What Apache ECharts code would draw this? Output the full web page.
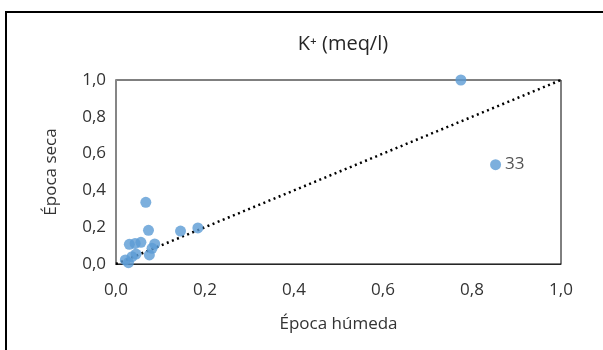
<!DOCTYPE html>
<html>
<head>
<meta charset="utf-8">
<script src="https://cdn.jsdelivr.net/npm/echarts@6/dist/echarts.min.js"></script>
<style>
  html, body { margin: 0; padding: 0; background: #fff; }
  #chart { width: 603px; height: 350px; }
</style>
</head>
<body>
<div id="chart"></div>
<script>
// K+ (meq/l): época húmeda (x) vs época seca (y)
var humeda = [0.067, 0.073, 0.145, 0.184, 0.030, 0.043, 0.056, 0.087, 0.081, 0.075, 0.045, 0.036, 0.021, 0.028, 0.775, 0.853];
var seca = [0.335, 0.183, 0.179, 0.196, 0.107, 0.112, 0.118, 0.109, 0.085, 0.049, 0.054, 0.040, 0.022, 0.007, 1.0, 0.540];
var etiquetas = ["", "", "", "", "", "", "", "", "", "", "", "", "", "", "", "33"];
var linea = [[0, 0], [1, 1]];

var puntos = [];
for (var i = 0; i < humeda.length; i++) {
  puntos.push({ value: [humeda[i], seca[i]], name: etiquetas[i] });
}

var fuente = "Open Sans";
var chart = echarts.init(document.getElementById("chart"));

function coma(v) {
  return v.toFixed(1).replace(".", ",");
}

option = {
  animation: false,
  backgroundColor: "#fff",
  title: {
    text: "K⁺ (meq/l)",
    left: 338,
    textAlign: "center",
    top: 29,
    textStyle: { fontFamily: fuente, fontSize: 20, fontWeight: "normal", color: "#262626" }
  },
  graphic: [
    {
      type: "rect",
      shape: { x: 6, y: 12, width: 700, height: 500 },
      style: { fill: "none", stroke: "#000", lineWidth: 2 },
      silent: true
    }
  ],
  grid: {
    left: 116,
    right: 42,
    top: 80,
    bottom: 86,
    show: true,
    borderColor: "#000",
    borderWidth: 1
  },
  xAxis: {
    type: "value",
    min: 0,
    max: 1,
    interval: 0.2,
    name: "Época húmeda",
    nameLocation: "middle",
    nameGap: 52,
    nameTextStyle: { fontFamily: fuente, fontSize: 17, color: "#333" },
    axisLine: { show: true, lineStyle: { color: "#262626", width: 1 } },
    axisTick: { show: false },
    splitLine: { show: false },
    axisLabel: {
      fontFamily: fuente,
      fontSize: 17,
      color: "#333",
      margin: 18,
      formatter: coma
    }
  },
  yAxis: {
    type: "value",
    min: 0,
    max: 1,
    interval: 0.2,
    name: "Época seca",
    nameLocation: "middle",
    nameGap: 56,
    nameTextStyle: { fontFamily: fuente, fontSize: 17, color: "#333" },
    axisLine: { show: true, lineStyle: { color: "#868686", width: 2 } },
    axisTick: { show: false },
    splitLine: { show: false },
    axisLabel: {
      fontFamily: fuente,
      fontSize: 17,
      color: "#333",
      margin: 10,
      formatter: coma
    }
  },
  series: [
    {
      type: "line",
      data: linea,
      symbol: "none",
      lineStyle: { color: "#000", width: 2.5, type: [2, 3.5] },
      z: 3
    },
    {
      type: "scatter",
      data: puntos,
      symbolSize: 11,
      itemStyle: { color: "#5B9BD5" },
      label: {
        show: true,
        position: "right",
        distance: 4,
        formatter: "{b}",
        fontFamily: fuente,
        fontSize: 17,
        color: "#262626"
      },
      z: 4
    }
  ]
};
chart.setOption(option);
</script>
</body>
</html>
